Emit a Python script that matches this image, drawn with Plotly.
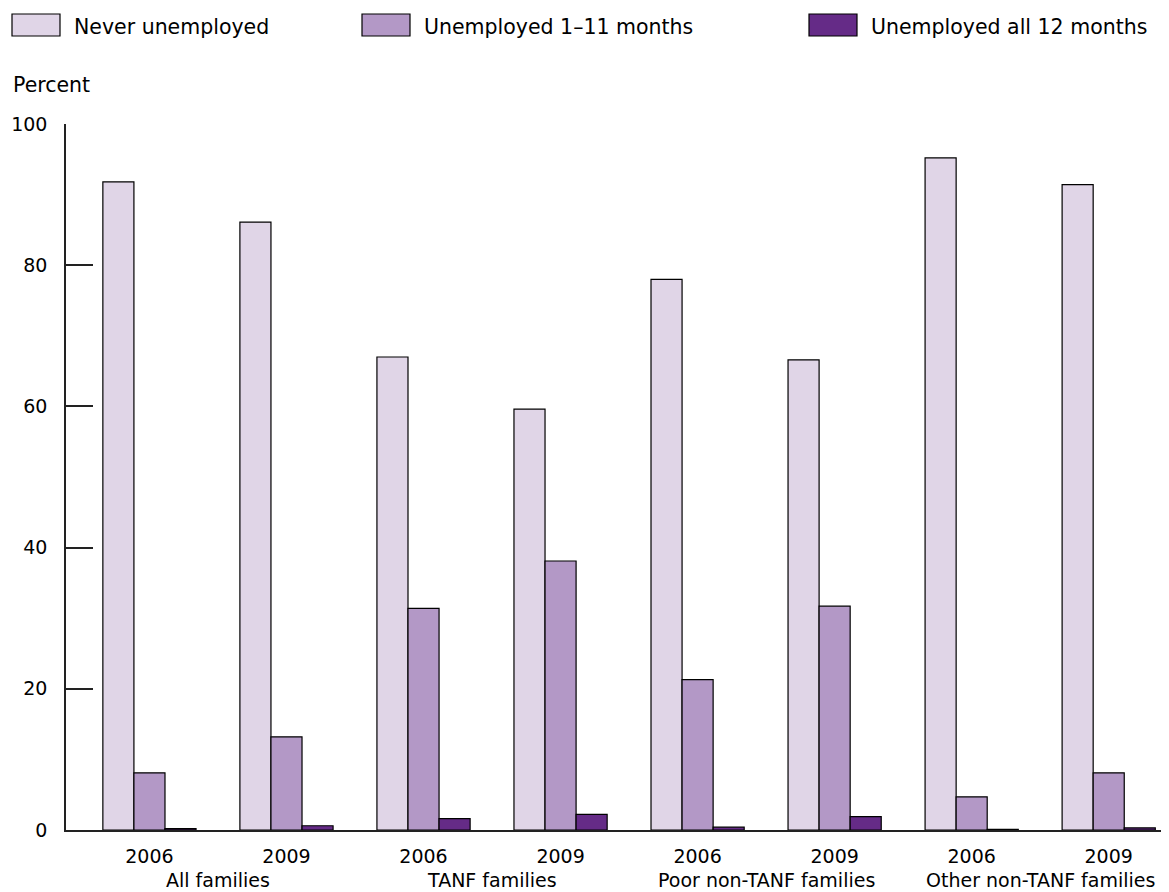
import plotly.graph_objects as go

groups = ["All families", "TANF families", "Poor non-TANF families", "Other non-TANF families"]
years = ["2006", "2009", "2006", "2009", "2006", "2009", "2006", "2009"]
series_names = ["Never unemployed", "Unemployed 1\u201311 months", "Unemployed all 12 months"]
never_unemployed = [91.8, 86.1, 67.0, 59.6, 78.0, 66.6, 95.2, 91.4]
unemployed_1_11 = [8.1, 13.2, 31.4, 38.1, 21.3, 31.7, 4.7, 8.1]
unemployed_12 = [0.2, 0.6, 1.6, 2.2, 0.4, 1.9, 0.1, 0.3]
colors = ["#e0d5e7", "#b398c6", "#652b87"]
y_ticks = [0, 20, 40, 60, 80, 100]

FONT = "DejaVu Sans"
x_pos = list(range(len(years)))

# page body has an 8px margin; figure is sized to fit the window
W, H = 1161, 884
L, T, B = 58, 116, 62
PW, PH = W - L, H - T - B

fig = go.Figure()
for name, vals, col in zip(series_names, [never_unemployed, unemployed_1_11, unemployed_12], colors):
    fig.add_trace(go.Bar(x=x_pos, y=vals, name=name,
                         marker=dict(color=col, line=dict(color="#000000", width=1.2)),
                         showlegend=False))

fig.update_layout(
    width=W, height=H,
    margin=dict(l=L, r=0, t=T, b=B, autoexpand=False),
    paper_bgcolor="white", plot_bgcolor="white",
    barmode="group", bargap=0.32, bargroupgap=0,
    font=dict(family=FONT, size=20, color="#000000"),
)
fig.update_xaxes(range=[-0.609, 7.44], tickmode="array", tickvals=x_pos, ticktext=years,
                 showgrid=False, zeroline=False, showline=True, linecolor="#222222", linewidth=1.5,
                 ticks="", tickfont=dict(size=19), ticklabelstandoff=8)
fig.update_yaxes(range=[0, 100], tickmode="array", tickvals=y_ticks, showgrid=False, zeroline=False,
                 showline=True, linecolor="#222222", linewidth=1.5, ticks="inside", ticklen=27,
                 tickcolor="#222222", tickwidth=1.5, tickfont=dict(size=19), ticklabelstandoff=13)

# group labels under each pair of years
for i, g in enumerate(groups):
    fig.add_annotation(x=2 * i + 0.5, y=0, xref="x", yref="y", yshift=-50, text=g, showarrow=False,
                       font=dict(size=19), xanchor="center", yanchor="middle")

def px(xp):
    return (xp - L) / PW

def py(yp):
    return (T + PH - yp) / PH

# axis title
fig.add_annotation(x=px(3), y=py(77), xref="paper", yref="paper", text="Percent", showarrow=False,
                   xanchor="left", yanchor="middle", font=dict(size=20.5))

# legend drawn with swatches + labels
legend_x = [4, 354, 801]
for name, col, lx in zip(series_names, colors, legend_x):
    fig.add_shape(type="rect", xref="paper", yref="paper", x0=px(lx), x1=px(lx + 48),
                  y0=py(28), y1=py(6), fillcolor=col, line=dict(color="#000000", width=1.2))
    fig.add_annotation(x=px(lx + 60), y=py(19), xref="paper", yref="paper",
                       text=name, showarrow=False, xanchor="left", yanchor="middle", font=dict(size=20.5))

fig.write_html("out.html")
